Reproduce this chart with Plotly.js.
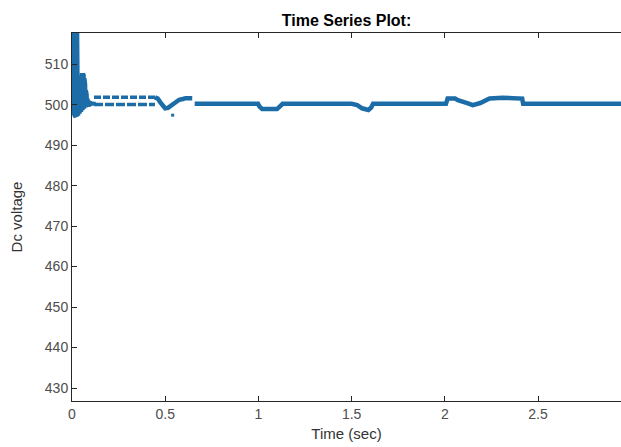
<!DOCTYPE html>
<html>
<head>
<meta charset="utf-8">
<script src="https://cdn.plot.ly/plotly-3.0.1.min.js"></script>
<style>html,body{margin:0;padding:0;background:#fff;}#chart{width:621px;height:447px;}</style>
</head>
<body>
<div id="chart"></div>
<script>
// Main DC voltage trace (time in s, voltage in V); null breaks the line
const timeMain = [0, 0.002, 0.004, 0.006, 0.008, 0.010, 0.012, 0.014, 0.016, 0.018, 0.020, 0.022, 0.024, 0.026, 0.028,
  0.030, 0.032, 0.034, 0.036, 0.038, 0.040, 0.042, 0.044, 0.046, 0.048, 0.050, 0.052, 0.054, 0.056, 0.058, 0.060,
  0.062, 0.064, 0.066, 0.068, 0.070, 0.072, 0.074, 0.076, 0.078, 0.080, 0.083, 0.086, 0.089, 0.092, 0.095, 0.098,
  0.101, 0.104, 0.108, 0.112, 0.116, 0.120, 0.121,
  0.445, 0.46, 0.475, 0.49, 0.50, 0.515, 0.53, 0.545, 0.56, 0.575, 0.595, 0.61, 0.645, 0.65,
  0.658, 0.998, 1.005, 1.02, 1.10, 1.115, 1.13, 1.50, 1.53, 1.556, 1.59, 1.605, 1.615,
  2.006, 2.015, 2.055, 2.07, 2.12, 2.15, 2.19, 2.215, 2.24, 2.31, 2.40, 2.415, 2.42, 2.945];
const dcMain = [499.5, 525, 498.5, 525, 498, 525, 497.5, 525, 497.2, 525, 497, 525, 497, 524, 497.5,
  501, 497.3, 500.8, 497.5, 504, 497.8, 506, 498, 507, 498.2, 507.5, 498.4, 507.8, 498.6, 507.6, 498.8,
  507.3, 499, 506.5, 499.2, 505, 499.3, 503.5, 499.4, 502.5, 499.5, 501.5, 499.5, 501, 499.6, 500.8, 499.8,
  500.6, 499.9, 500.5, 500, 500.4, 500.1, null,
  501.8, 501.5, 500.5, 499.5, 499.1, 499.2, 499.7, 500.3, 500.8, 501.2, 501.4, 501.6, 501.6, null,
  500.2, 500.2, 499.6, 498.9, 498.9, 499.4, 500.2, 500.2, 499.9, 499.1, 498.7, 499.3, 500.2,
  500.2, 501.5, 501.5, 501.1, 500.4, 499.9, 500.4, 501.1, 501.5, 501.7, 501.5, 501.5, 500.2, 500.2];
// Ripple band (two interleaved levels) between ~0.12 s and ~0.445 s
const timeBand = [0.118, 0.445];
const dcBandHigh = [501.8, 501.8];
const dcBandLow = [500.05, 500.05];
// Isolated sample below the dip
const timeOutlier = [0.54];
const dcOutlier = [497.4];
// Axis ticks
const xTicks = [0, 0.5, 1, 1.5, 2, 2.5];
const xTickLabels = ['0', '0.5', '1', '1.5', '2', '2.5'];
const yTicks = [430, 440, 450, 460, 470, 480, 490, 500, 510];

const blue = '#1c6ca8';
const traces = [
  {x: timeMain, y: dcMain, type: 'scatter', mode: 'lines', connectgaps: false,
   line: {color: blue, width: 4.5}, hoverinfo: 'skip'},
  {x: timeBand, y: dcBandHigh, type: 'scatter', mode: 'lines',
   line: {color: blue, width: 3.5, dash: '7px,2px'}, hoverinfo: 'skip'},
  {x: timeBand, y: dcBandLow, type: 'scatter', mode: 'lines',
   line: {color: blue, width: 3.5, dash: '9px,2px'}, hoverinfo: 'skip'},
  {x: timeOutlier, y: dcOutlier, type: 'scatter', mode: 'markers',
   marker: {color: blue, size: 3, symbol: 'square'}, hoverinfo: 'skip'}
];

const axisColor = '#262626';
const fam = 'Liberation Sans, Arial, sans-serif';
const tickFont = {family: fam, size: 14, color: '#4d4d4d'};
const layout = {
  width: 621, height: 447,
  margin: {l: 72, r: 0, t: 33, b: 46, pad: 0},
  paper_bgcolor: '#ffffff', plot_bgcolor: '#ffffff',
  showlegend: false,
  title: {text: '<b>Time Series Plot:</b>', font: {family: fam, size: 16, color: '#000000'},
          xref: 'paper', x: 0.5, xanchor: 'center', yref: 'container', y: 1 - 20.5 / 447, yanchor: 'middle'},
  xaxis: {
    range: [0, 2.945], tickvals: xTicks, ticktext: xTickLabels,
    ticks: 'inside', ticklen: 5, tickwidth: 1, tickcolor: axisColor,
    showline: true, linecolor: axisColor, linewidth: 1, mirror: 'ticks',
    showgrid: false, zeroline: false, tickfont: tickFont,
    title: {text: 'Time (sec)', font: {family: fam, size: 15, color: '#333333'}, standoff: 7}
  },
  yaxis: {
    range: [426.8, 517.7], tickvals: yTicks,
    ticks: 'inside', ticklen: 5, tickwidth: 1, tickcolor: axisColor,
    showline: true, linecolor: axisColor, linewidth: 1, mirror: false,
    showgrid: false, zeroline: false, tickfont: tickFont,
    title: {text: 'Dc voltage', font: {family: fam, size: 15, color: '#333333'}, standoff: 18}
  }
};
Plotly.newPlot('chart', traces, layout, {displayModeBar: false, staticPlot: true});
</script>
</body>
</html>
